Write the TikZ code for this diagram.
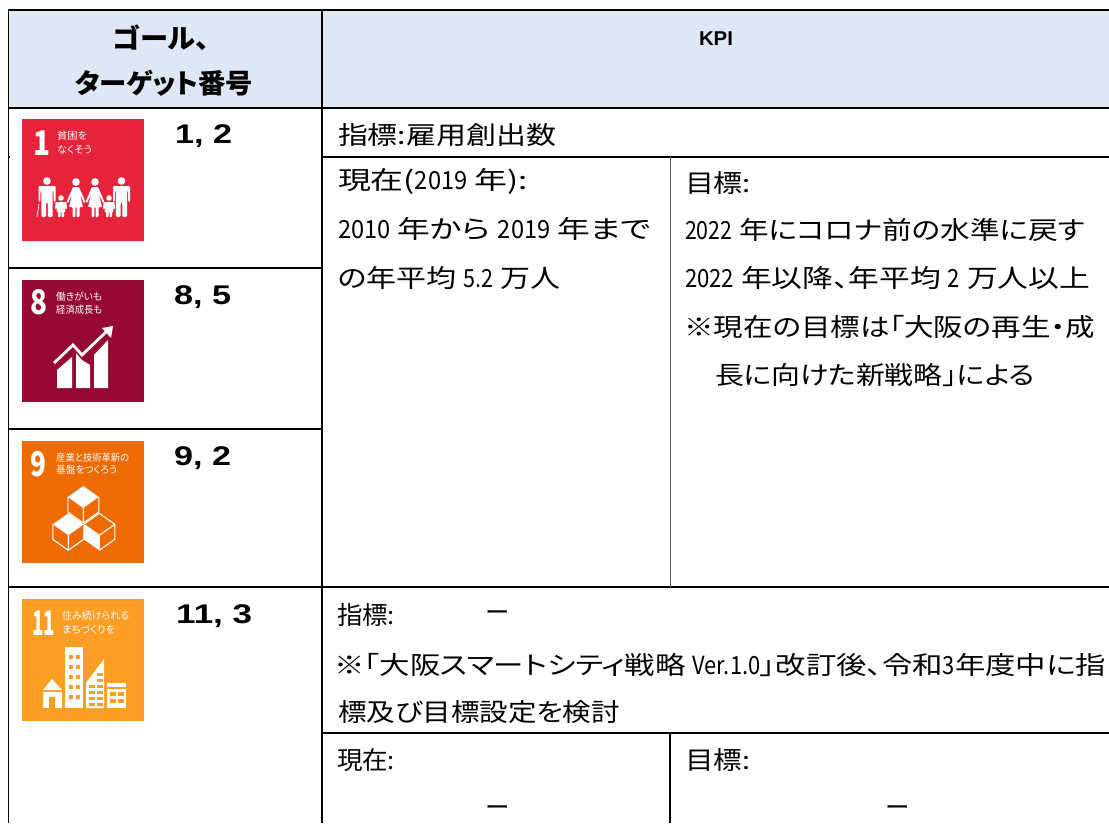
\documentclass[tikz,border=0pt]{standalone}
\usepackage{fontspec}
\usepackage{graphicx}
\setmainfont[RawFeature=+palt]{Noto Sans CJK JP}
\newfontfamily\latinb{Liberation Sans}
\newsavebox\fitbox
\newcommand\fitw[2]{\sbox\fitbox{#2}\pgfmathsetmacro\fitr{#1/\the\wd\fitbox}\scalebox{\fitr}[1]{\usebox\fitbox}}
\newcommand\nd[1]{\scalebox{.72}[1]{#1}}
\tikzset{
  x=1pt,y=-1pt,
  txt/.style={anchor=base west,inner sep=0pt,outer sep=0pt,text=black,font=\fontsize{25}{28}\selectfont},
  head/.style={anchor=base,inner sep=0pt,text=black,font=\fontsize{27}{30}\selectfont\bfseries},
  num/.style={anchor=base west,inner sep=0pt,text=black,font=\fontsize{27}{30}\selectfont\latinb\bfseries},
  itxt/.style={anchor=base west,inner sep=0pt,text=white,font=\fontsize{10}{12}\selectfont},
  inum/.style={anchor=base west,inner sep=0pt,text=white,font=\fontsize{34}{36}\selectfont\bfseries},
  heavy/.style={line width=1.9pt,black},
  thin rule/.style={line width=1.1pt,black},
  grey rule/.style={line width=1pt,black!65},
  wl/.style={draw=white,line width=1.1pt,line join=round},
}
\newcommand\manfig[2]{\begin{scope}[shift={(#1,#2)}]
  \fill[white] (0,0) circle (3.8);
  \fill[white,rounded corners=1.2] (-8.5,5) -- (8.5,5) -- (8.5,21) -- (6.8,21) -- (6.4,9) -- (5.6,9) -- (5.6,36) -- (1,36) -- (.7,21) -- (-.7,21) -- (-1,36) -- (-5.6,36) -- (-5.6,9) -- (-6.4,9) -- (-6.8,21) -- (-8.5,21) -- cycle;
\end{scope}}
\newcommand\womanfig[2]{\begin{scope}[shift={(#1,#2)}]
  \fill[white] (0,0) circle (3.8);
  \fill[white,rounded corners=.8] (-3,5) -- (3,5) -- (9.5,20) -- (8,21) -- (4,12) -- (7,25) -- (3.5,25) -- (3.5,35) -- (.6,35) -- (.6,25) -- (-.6,25) -- (-.6,35) -- (-3.5,35) -- (-3.5,25) -- (-7,25) -- (-4,12) -- (-8,21) -- (-9.5,20) -- cycle;
\end{scope}}
\newcommand\childfig[2]{\begin{scope}[shift={(#1,#2)}]
  \fill[white] (0,0) circle (2.8);
  \fill[white,rounded corners=.6] (-5.5,4) -- (5.5,4) -- (6,11) -- (4.6,11) -- (3.6,8) -- (4.5,14) -- (3,14) -- (3,19) -- (.5,19) -- (.5,14) -- (-.5,14) -- (-.5,19) -- (-3,19) -- (-3,14) -- (-4.5,14) -- (-3.6,8) -- (-4.6,11) -- (-6,11) -- cycle;
\end{scope}}
\newcommand\cube[3]{\begin{scope}[shift={(#1,#2)}]
  \ifnum#3=0
    \fill[white] (0,0) -- (15.5,11) -- (0,22) -- (-15.5,11) -- cycle;
    \draw[wl] (-15.5,11) -- (-15.5,26) -- (0,37) -- (15.5,26) -- (15.5,11) (0,22) -- (0,37);
  \else
    \draw[wl] (0,0) -- (15.5,11) -- (0,22) -- (-15.5,11) -- cycle;
    \fill[white] (-15.5,11) -- (0,22) -- (0,37) -- (-15.5,26) -- cycle;
    \draw[wl] (15.5,11) -- (15.5,26) -- (0,37) (0,22) -- (0,37);
  \fi
\end{scope}}
\begin{document}
\begin{tikzpicture}
\useasboundingbox (0,0) rectangle (1109,823);
\fill[white] (0,0) rectangle (1109,823);
\fill[fill={rgb,255:red,221;green,232;blue,244}] (8.5,10) rectangle (1109,108);
% rules
\draw[thin rule] (8.5,10) -- (8.5,733);
\draw[heavy] (8.5,733) -- (8.5,823);
\draw[thin rule] (322,10) -- (322,823);
\draw[heavy] (8,10) -- (1109,10);
\draw[heavy] (8,108) -- (1109,108);
\draw[heavy] (322,157) -- (1109,157);
\draw[heavy] (8,157) -- (10,157);
\draw[heavy] (8,268) -- (322,268);
\draw[heavy] (8,429) -- (322,429);
\draw[heavy] (8,587) -- (1109,587);
\draw[heavy] (322,733) -- (1109,733);
\draw[grey rule] (670,157) -- (670,587);
\draw[heavy] (670,733) -- (670,823);
% header
\node[head] (h1) at (161,48) {\fitw{97}{ゴール、}};
\node[head] (h2) at (164,93) {\fitw{178}{ターゲット番号}};
\node[head,font=\fontsize{20}{22}\selectfont\latinb\bfseries] (h3) at (716,45) {\fitw{34}{KPI}};
% numbers
\node[num] (n1) at (175,143) {\fitw{57}{1, 2}};
\node[num] (n2) at (174,304) {\fitw{57}{8, 5}};
\node[num] (n3) at (174,465) {\fitw{57}{9, 2}};
\node[num] (n4) at (176,623) {\fitw{76}{11, 3}};
% body text
\node[txt] (a1) at (338,144) {\fitw{218}{指標:雇用創出数}};
\node[txt] (a2) at (338,189) {\fitw{190}{現在(\nd{2019} 年):}};
\node[txt] (a3) at (338,238) {\fitw{313}{\nd{2010} 年から \nd{2019} 年まで}};
\node[txt] (a4) at (338,287) {\fitw{222}{の年平均 \nd{5.2} 万人}};
\node[txt] (b1) at (685,192) {\fitw{66}{目標:}};
\node[txt] (b2) at (685,239) {\fitw{400}{\nd{2022} 年にコロナ前の水準に戻す}};
\node[txt] (b3) at (685,287) {\fitw{405}{\nd{2022} 年以降、年平均 \nd{2} 万人以上}};
\node[txt] (b4) at (684,336) {\fitw{411}{※現在の目標は「大阪の再生・成}};
\node[txt] (b5) at (715,384) {\fitw{320}{長に向けた新戦略」による}};
\node[txt] (c1) at (337,624) {\fitw{58}{指標:}};
\node[txt] (c2) at (486,621) {\fitw{24}{ー}};
\node[txt] (c3) at (334,674) {\fitw{772}{※「大阪スマートシティ戦略 \nd{Ver.1.0}」改訂後、令和\nd{3}年度中に指}};
\node[txt] (c4) at (338,721) {\fitw{282}{標及び目標設定を検討}};
\node[txt] (d1) at (337,769) {\fitw{58}{現在:}};
\node[txt] (d2) at (486,816) {\fitw{24}{ー}};
\node[txt] (d3) at (685,769) {\fitw{65}{目標:}};
\node[txt] (d4) at (886,816) {\fitw{24}{ー}};
% icon 1
\begin{scope}[shift={(22,119)}]
  \fill[fill={rgb,255:red,229;green,36;blue,59}] (0,0) rectangle (122,122);
  \node[inum] (i1n) at (11,36) {\fitw{17}{1}};
  \node[itxt] (i1a) at (35,20) {\fitw{30}{貧困を}};
  \node[itxt] (i1b) at (35,34) {\fitw{35}{なくそう}};
  \manfig{25}{62}
  \draw[white,line width=.7pt] (17,85) -- (15,98);
  \childfig{39}{79}
  \womanfig{54}{63}
  \womanfig{73}{63}
  \childfig{87}{79}
  \manfig{99.5}{62}
\end{scope}
% icon 8
\begin{scope}[shift={(22,280)}]
  \fill[fill={rgb,255:red,150;green,9;blue,50}] (0,0) rectangle (122,122);
  \node[inum] (i8n) at (8,34) {\fitw{17}{8}};
  \node[itxt] (i8a) at (34,20) {\fitw{46}{働きがいも}};
  \node[itxt] (i8b) at (34,33) {\fitw{46}{経済成長も}};
  \fill[white] (35,108) -- (35,90) -- (50,77) -- (50,108) -- cycle;
  \fill[white] (54,108) -- (54,73) -- (60,80) -- (68,85) -- (68,108) -- cycle;
  \fill[white] (72,108) -- (72,75) -- (86,60) -- (86,108) -- cycle;
  \draw[white,line width=2.8pt] (32,83) -- (51,65) -- (60,75) -- (84,52);
  \fill[white] (91,46) -- (80,48) -- (89,58) -- cycle;
\end{scope}
% icon 9
\begin{scope}[shift={(22,441)}]
  \fill[fill={rgb,255:red,238;green,106;blue,2}] (0,0) rectangle (122,122);
  \node[inum] (i9n) at (8,35) {\fitw{16}{9}};
  \node[itxt] (i9a) at (34,20) {\fitw{73}{産業と技術革新の}};
  \node[itxt] (i9b) at (34,32) {\fitw{61}{基盤をつくろう}};
  \cube{61.3}{45}{0}
  \cube{46.3}{72.3}{0}
  \cube{77.3}{72.3}{1}
\end{scope}
% icon 11
\begin{scope}[shift={(22,599)}]
  \fill[fill={rgb,255:red,252;green,157;blue,36}] (0,0) rectangle (122,122);
  \node[inum] (i11n) at (10,36) {\fitw{23}{11}};
  \node[itxt] (i11a) at (40,20) {\fitw{67}{住み続けられる}};
  \node[itxt] (i11b) at (40,34) {\fitw{53}{まちづくりを}};
  \fill[white] (43,48) rectangle (61,109);
  \foreach \yy in {56,66,76,86,96} \foreach \xx in {47,54}
    \fill[fill={rgb,255:red,252;green,157;blue,36}] (\xx,\yy) rectangle ++(4,4);
  \fill[white] (21,91) -- (30,80) -- (40,91) -- cycle;
  \fill[white] (21,93) rectangle (40,109);
  \fill[fill={rgb,255:red,252;green,157;blue,36}] (27,98) rectangle (33,109);
  \fill[white] (64,109) -- (64,84) -- (82,60) -- (82,109) -- cycle;
  \foreach \yy in {86,92,98,104} \foreach \xx in {67,75}
    \fill[fill={rgb,255:red,252;green,157;blue,36}] (\xx,\yy) rectangle ++(6,3);
  \foreach \yy in {74,80} \fill[fill={rgb,255:red,252;green,157;blue,36}] (75,\yy) rectangle ++(6,3);
  \fill[white] (85,84) rectangle (104,109);
  \fill[fill={rgb,255:red,252;green,157;blue,36}] (85,88) rectangle (104,90);
  \foreach \yy in {93,100} \foreach \xx in {88,96}
    \fill[fill={rgb,255:red,252;green,157;blue,36}] (\xx,\yy) rectangle ++(6,4);
\end{scope}
\end{tikzpicture}
\end{document}
